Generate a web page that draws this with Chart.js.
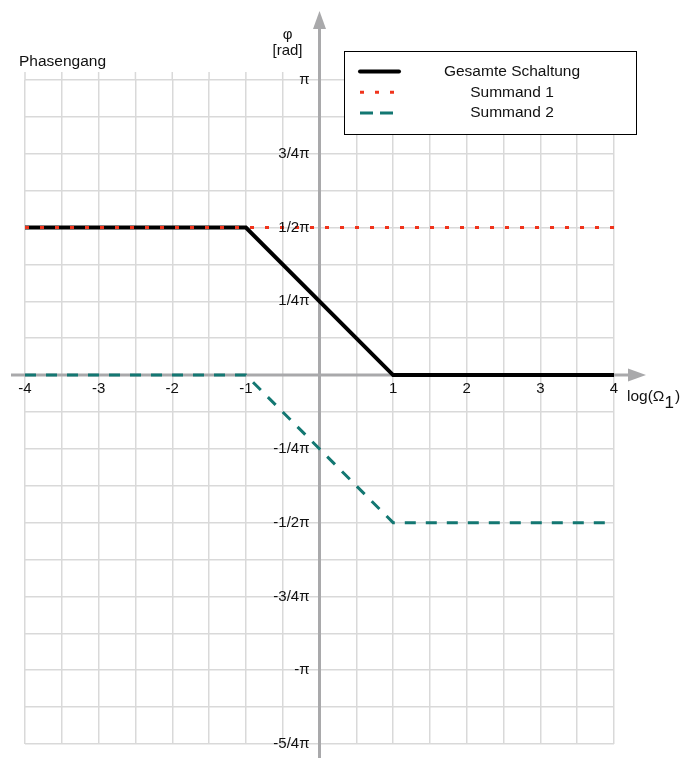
<!DOCTYPE html>
<html>
<head>
<meta charset="utf-8">
<script src="https://cdn.jsdelivr.net/npm/chart.js@4/dist/chart.umd.min.js"></script>
<style>
  html, body { margin: 0; padding: 0; background: #fff; }
  #wrap { width: 681px; height: 758px; }
</style>
</head>
<body>
<div id="wrap"><canvas id="c" width="681" height="758"></canvas></div>
<script>
// log(Ω1) break points and phase values (in multiples of π)
const xPoints      = [-4, -1, 1, 4];
const gesamt       = [0.5, 0.5, 0, 0];
const summand1     = [0.5, 0.5, 0.5, 0.5];
const summand2     = [0, 0, -0.5, -0.5];

const xTickValues  = [-4, -3, -2, -1, 1, 2, 3, 4];
const xTickLabels  = ['-4', '-3', '-2', '-1', '1', '2', '3', '4'];
const yTickValues  = [1, 0.75, 0.5, 0.25, -0.25, -0.5, -0.75, -1, -1.25];
const yTickLabels  = ['π', '3/4π', '1/2π', '1/4π', '-1/4π', '-1/2π', '-3/4π', '-π', '-5/4π'];

const seriesNames  = ['Gesamte Schaltung', 'Summand 1', 'Summand 2'];

const FONT = '"Liberation Sans", Arial, Helvetica, sans-serif';
const AXIS = '#a9a9ab';
const GRID = '#d9d9d9';
const C_GES = '#000000';
const C_S1 = '#f0341c';
const C_S2 = '#137772';

const toPts = (ys) => xPoints.map((x, i) => ({ x, y: ys[i] }));

const overlay = {
  id: 'overlay',
  beforeDatasetsDraw(chart) {
    const { ctx, chartArea: a, scales: { x, y } } = chart;
    const x0 = x.getPixelForValue(0);
    const y0 = y.getPixelForValue(0);
    ctx.save();
    // vertical grid lines reach slightly above the top line
    ctx.strokeStyle = GRID;
    ctx.lineWidth = 1.5;
    for (let v = -4; v <= 4; v += 0.5) {
      const px = x.getPixelForValue(v);
      ctx.beginPath();
      ctx.moveTo(px, a.top - 8);
      ctx.lineTo(px, a.top);
      ctx.stroke();
    }
    // axes with arrow heads
    ctx.strokeStyle = AXIS;
    ctx.fillStyle = AXIS;
    ctx.lineWidth = 3;
    ctx.beginPath();
    ctx.moveTo(a.left - 14, y0);
    ctx.lineTo(a.right + 16, y0);
    ctx.moveTo(x0, chart.height);
    ctx.lineTo(x0, 28);
    ctx.stroke();
    ctx.beginPath();
    ctx.moveTo(a.right + 32, y0);
    ctx.lineTo(a.right + 14, y0 - 6.5);
    ctx.lineTo(a.right + 14, y0 + 6.5);
    ctx.closePath();
    ctx.fill();
    ctx.beginPath();
    ctx.moveTo(x0, 11);
    ctx.lineTo(x0 - 6.5, 29);
    ctx.lineTo(x0 + 6.5, 29);
    ctx.closePath();
    ctx.fill();
    ctx.restore();
  },
  afterDraw(chart) {
    const { ctx, chartArea: a, scales: { x, y } } = chart;
    const x0 = x.getPixelForValue(0);
    const y0 = y.getPixelForValue(0);
    ctx.save();
    ctx.fillStyle = '#111';
    ctx.font = '15px ' + FONT;
    // y tick labels, left of the vertical axis
    ctx.textAlign = 'right';
    ctx.textBaseline = 'middle';
    yTickValues.forEach((v, i) => {
      ctx.fillText(yTickLabels[i], x0 - 10, y.getPixelForValue(v));
    });
    // x tick labels, below the horizontal axis
    ctx.textAlign = 'center';
    xTickValues.forEach((v, i) => {
      ctx.fillText(xTickLabels[i], x.getPixelForValue(v), y0 + 14);
    });
    // axis titles
    ctx.font = '15px ' + FONT;
    ctx.textAlign = 'center';
    ctx.fillText('φ', x0 - 32, 35);
    ctx.fillText('[rad]', x0 - 32, 51);
    ctx.font = '15.5px ' + FONT;
    ctx.textAlign = 'left';
    ctx.fillText('Phasengang', 19, 62);
    const lx = a.right + 13;
    const ly = y0 + 22;
    ctx.font = '15.5px ' + FONT;
    ctx.fillText('log(Ω', lx, ly);
    const w = ctx.measureText('log(Ω').width;
    ctx.font = '17px ' + FONT;
    ctx.fillText('1', lx + w, ly + 6);
    const w1 = ctx.measureText('1').width;
    ctx.font = '15.5px ' + FONT;
    ctx.fillText(')', lx + w + w1 + 1, ly);

    // legend box
    const bx = 344, by = 51, bw = 292, bh = 83;
    ctx.fillStyle = '#fff';
    ctx.fillRect(bx, by, bw, bh);
    ctx.strokeStyle = '#000';
    ctx.lineWidth = 1;
    ctx.strokeRect(bx + 0.5, by + 0.5, bw, bh);
    const styles = [
      { color: C_GES, width: 4, dash: [], cap: 'round' },
      { color: C_S1, width: 3, dash: [4, 11], cap: 'butt' },
      { color: C_S2, width: 3, dash: [13, 7], cap: 'butt' }
    ];
    seriesNames.forEach((name, i) => {
      const rowY = 71.5 + i * 20.8;
      const s = styles[i];
      ctx.strokeStyle = s.color;
      ctx.lineWidth = s.width;
      ctx.lineCap = s.cap;
      ctx.setLineDash(s.dash);
      ctx.beginPath();
      ctx.moveTo(360, rowY);
      ctx.lineTo(399, rowY);
      ctx.stroke();
      ctx.setLineDash([]);
      ctx.lineCap = 'butt';
      ctx.fillStyle = '#111';
      ctx.font = '15.5px ' + FONT;
      ctx.textAlign = 'center';
      ctx.textBaseline = 'middle';
      ctx.fillText(name, 512, rowY);
    });
    ctx.restore();
  }
};

new Chart(document.getElementById('c'), {
  type: 'line',
  data: {
    datasets: [
      { label: seriesNames[0], data: toPts(gesamt), borderColor: C_GES, borderWidth: 4,
        pointRadius: 0, order: 2, borderCapStyle: 'butt', borderJoinStyle: 'miter' },
      { label: seriesNames[1], data: toPts(summand1), borderColor: C_S1, borderWidth: 3,
        borderDash: [4, 11], pointRadius: 0, order: 1 },
      { label: seriesNames[2], data: toPts(summand2), borderColor: C_S2, borderWidth: 3,
        borderDash: [11, 10], pointRadius: 0, order: 0 }
    ]
  },
  options: {
    responsive: false,
    animation: false,
    layout: { padding: { left: 25, right: 67, top: 80, bottom: 14 } },
    plugins: { legend: { display: false }, tooltip: { enabled: false } },
    scales: {
      x: {
        type: 'linear', min: -4, max: 4,
        ticks: { display: false, stepSize: 0.5 },
        grid: { color: GRID, lineWidth: 1.5, drawTicks: false },
        border: { display: false }
      },
      y: {
        type: 'linear', min: -1.25, max: 1,
        ticks: { display: false, stepSize: 0.125 },
        grid: { color: GRID, lineWidth: 1.5, drawTicks: false },
        border: { display: false }
      }
    }
  },
  plugins: [overlay]
});
</script>
</body>
</html>
